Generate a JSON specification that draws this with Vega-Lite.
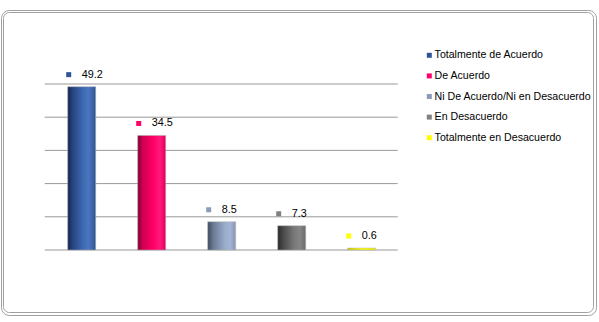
{
  "$schema": "https://vega.github.io/schema/vega-lite/v6.json",
  "width": 595,
  "height": 305,
  "autosize": "none",
  "padding": {"left": 1, "top": 10, "right": 3, "bottom": 7},
  "background": "white",
  "config": {
    "view": {"stroke": "#a0a0a0", "strokeWidth": 1, "cornerRadius": 8},
    "text": {"font": "Liberation Sans", "fontSize": 10.8, "color": "black"},
    "legend": {
      "orient": "none", "legendX": 423, "legendY": 40, "direction": "vertical",
      "symbolType": "square", "symbolSize": 25, "symbolStrokeWidth": 0,
      "rowPadding": 9.6, "labelOffset": 0, "labelFont": "Liberation Sans",
      "labelFontSize": 10.6, "labelColor": "black", "padding": 0, "labelLimit": 300
    }
  },
  "datasets": {
    "bars": [
      {"cat": "Totalmente de Acuerdo", "value": 49.2},
      {"cat": "De Acuerdo", "value": 34.5},
      {"cat": "Ni De Acuerdo/Ni en Desacuerdo", "value": 8.5},
      {"cat": "En Desacuerdo", "value": 7.3},
      {"cat": "Totalmente en Desacuerdo", "value": 0.6}
    ],
    "grid": [{"g": 0}, {"g": 10}, {"g": 20}, {"g": 30}, {"g": 40}, {"g": 50}],
    "frame": [{"frame": 1}]
  },
  "data": {"name": "bars"},
  "layer": [
    {
      "data": {"name": "frame"},
      "mark": {"type": "rect", "fill": null, "fillOpacity": 0, "stroke": "#a0a0a0", "strokeWidth": 1, "cornerRadius": 6, "xOffset": 2.5, "x2Offset": -2.5, "yOffset": 2.5, "y2Offset": -2.5},
      "encoding": {
        "x": {"value": 0}, "x2": {"value": "width"},
        "y": {"value": 0}, "y2": {"value": "height"}
      }
    },
    {
      "data": {"name": "grid"},
      "mark": {"type": "rule", "stroke": "#999999", "strokeWidth": 1, "xOffset": -23, "x2Offset": 22},
      "encoding": {
        "y": {"field": "g", "type": "quantitative", "axis": null, "scale": {"domain": [-19.58, 72.29], "nice": false, "zero": false}},
        "x": {"datum": "Totalmente de Acuerdo", "type": "nominal", "bandPosition": 0, "axis": null,
              "scale": {"domain": ["Totalmente de Acuerdo", "De Acuerdo", "Ni De Acuerdo/Ni en Desacuerdo", "En Desacuerdo", "Totalmente en Desacuerdo"], "range": [45.7, 395.7], "paddingInner": 0.6, "paddingOuter": 0.3}},
        "x2": {"datum": "Totalmente en Desacuerdo", "bandPosition": 1}
      }
    },
    {
      "encoding": {
        "x": {"field": "cat", "type": "nominal", "sort": null},
        "y": {"field": "value", "type": "quantitative"}
      },
      "layer": [
        {
          "transform": [{"filter": "datum.cat === 'Totalmente de Acuerdo'"}],
          "mark": {"type": "bar", "stroke": "#b0b0b0", "strokeWidth": 0.5,
            "fill": {"gradient": "linear", "x1": 0, "y1": 0, "x2": 1, "y2": 0, "stops": [{"offset": 0, "color": "#15254a"}, {"offset": 0.15, "color": "#24417c"}, {"offset": 0.55, "color": "#3f69b2"}, {"offset": 0.75, "color": "#4a76c0"}, {"offset": 1, "color": "#2f5496"}]}}
        },
        {
          "transform": [{"filter": "datum.cat === 'De Acuerdo'"}],
          "mark": {"type": "bar", "stroke": "#b0b0b0", "strokeWidth": 0.5,
            "fill": {"gradient": "linear", "x1": 0, "y1": 0, "x2": 1, "y2": 0, "stops": [{"offset": 0, "color": "#7a0030"}, {"offset": 0.15, "color": "#c8004f"}, {"offset": 0.55, "color": "#ff0066"}, {"offset": 0.8, "color": "#ff1a78"}, {"offset": 1, "color": "#e0005a"}]}}
        },
        {
          "transform": [{"filter": "datum.cat === 'Ni De Acuerdo/Ni en Desacuerdo'"}],
          "mark": {"type": "bar", "stroke": "#b0b0b0", "strokeWidth": 0.5,
            "fill": {"gradient": "linear", "x1": 0, "y1": 0, "x2": 1, "y2": 0, "stops": [{"offset": 0, "color": "#3e4a5c"}, {"offset": 0.2, "color": "#6a7a94"}, {"offset": 0.6, "color": "#98abc8"}, {"offset": 0.8, "color": "#a3b5d2"}, {"offset": 1, "color": "#8496b4"}]}}
        },
        {
          "transform": [{"filter": "datum.cat === 'En Desacuerdo'"}],
          "mark": {"type": "bar", "stroke": "#b0b0b0", "strokeWidth": 0.5,
            "fill": {"gradient": "linear", "x1": 0, "y1": 0, "x2": 1, "y2": 0, "stops": [{"offset": 0, "color": "#2a2a2a"}, {"offset": 0.2, "color": "#4a4a4a"}, {"offset": 0.6, "color": "#7a7a7a"}, {"offset": 0.8, "color": "#858585"}, {"offset": 1, "color": "#6a6a6a"}]}}
        },
        {
          "transform": [{"filter": "datum.cat === 'Totalmente en Desacuerdo'"}],
          "mark": {"type": "bar", "stroke": "#b0b0b0", "strokeWidth": 0.5,
            "fill": {"gradient": "linear", "x1": 0, "y1": 0, "x2": 1, "y2": 0, "stops": [{"offset": 0, "color": "#c8c800"}, {"offset": 0.5, "color": "#ffff00"}, {"offset": 1, "color": "#f0f000"}]}}
        },
        {
          "mark": {"type": "point", "shape": "square", "size": 25, "filled": true, "opacity": 1, "xOffset": -13, "yOffset": -12},
          "encoding": {
            "color": {"field": "cat", "type": "nominal", "title": null,
              "scale": {
                "domain": ["Totalmente de Acuerdo", "De Acuerdo", "Ni De Acuerdo/Ni en Desacuerdo", "En Desacuerdo", "Totalmente en Desacuerdo"],
                "range": ["#2f5597", "#ff0066", "#8a9cb8", "#808080", "#ffff00"]
              }
            }
          }
        },
        {
          "mark": {"type": "text", "align": "left", "baseline": "middle", "dy": -12},
          "encoding": {
            "text": {"field": "value", "type": "quantitative", "format": ".1f"}
          }
        }
      ]
    }
  ]
}
